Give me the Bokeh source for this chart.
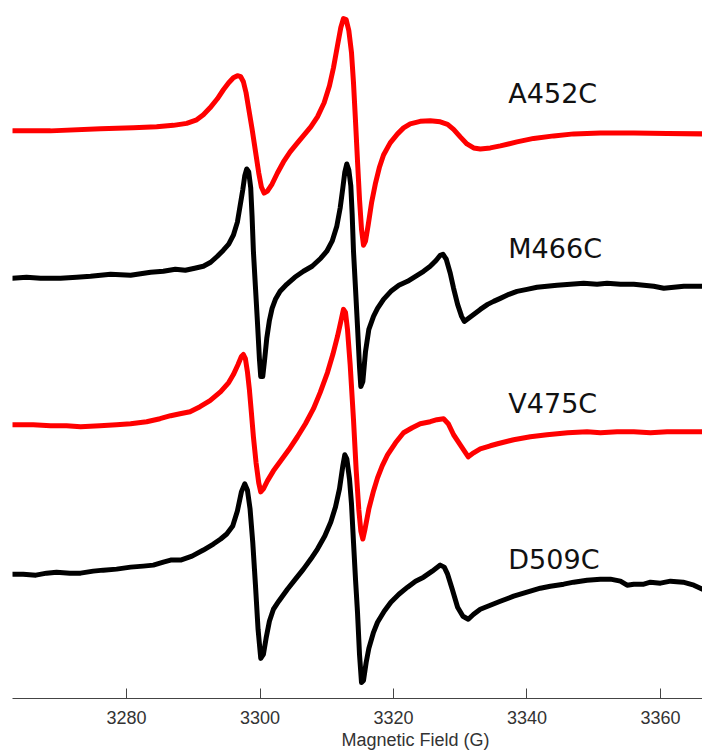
from bokeh.plotting import figure
from bokeh.models import Range1d, FixedTicker, Title
from bokeh.core.properties import value
from bokeh.embed import file_html
from bokeh.resources import INLINE

# ---- data (magnetic field in G, derivative intensity in arbitrary units relative to baseline) ----
field_A = [3262.9, 3268.6, 3276.1, 3281.0, 3284.5, 3287.0, 3289.0, 3290.5, 3291.5, 3292.5,
           3293.6, 3294.5, 3295.3, 3296.0, 3296.6, 3297.1, 3297.5, 3297.9, 3298.3, 3298.8,
           3299.3, 3299.8, 3300.2, 3300.6, 3301.1, 3301.8, 3302.6, 3303.5, 3304.5, 3305.6,
           3306.6, 3307.6, 3308.6, 3309.6, 3310.4, 3311.0, 3311.6, 3312.1, 3312.5, 3312.9,
           3313.3, 3313.7, 3314.0, 3314.3, 3314.6, 3314.9, 3315.2, 3315.5, 3315.8, 3316.2,
           3316.7, 3317.3, 3317.9, 3318.5, 3319.5, 3320.6, 3321.5, 3322.5, 3324.0, 3325.5,
           3327.0, 3328.1, 3329.0, 3330.0, 3331.0, 3332.0, 3333.0, 3334.5, 3336.0, 3338.5,
           3341.0, 3344.0, 3347.0, 3351.0, 3356.0, 3361.0, 3366.3]
int_A = [0, 0, 2, 3, 4, 5.5, 7.5, 11, 16, 23,
         32, 41, 48, 53, 55, 54, 49, 38, 22, 2,
         -20, -42, -56, -62, -60, -53, -42, -31, -21, -12,
         -4, 4, 14, 28, 45, 63, 85, 103, 112, 111,
         100, 78, 48, 10, -30, -68, -98, -114, -110, -94,
         -72, -52, -36, -24, -12, -3, 3, 7, 9.5, 10,
         9, 6.5, 1.5, -6, -13, -17, -18, -17, -15, -11,
         -7.5, -5, -3, -2, -2, -2.5, -3]

field_M = [3262.9, 3265.0, 3267.1, 3270.1, 3272.5, 3274.6, 3277.6, 3280.6, 3283.6, 3285.5,
           3287.3, 3288.8, 3290.2, 3291.5, 3292.6, 3293.6, 3294.5, 3295.3, 3296.0, 3296.6,
           3297.0, 3297.4, 3297.7, 3298.0, 3298.3, 3298.6, 3298.8, 3299.0, 3299.3, 3299.6,
           3299.9, 3300.1, 3300.4, 3300.7, 3301.0, 3301.4, 3301.8, 3302.3, 3303.0, 3304.0,
           3305.2, 3306.5, 3307.8, 3309.1, 3310.0, 3310.8, 3311.5, 3312.0, 3312.4, 3312.7,
           3313.0, 3313.3, 3313.6, 3313.8, 3314.0, 3314.3, 3314.6, 3314.9, 3315.1, 3315.4,
           3315.8, 3316.3, 3317.0, 3317.6, 3318.5, 3319.6, 3320.8, 3322.1, 3323.3, 3324.5,
           3325.5, 3326.4, 3327.0, 3327.4, 3327.9, 3328.5, 3329.0, 3329.6, 3330.2, 3330.6,
           3331.2, 3332.0, 3333.0, 3334.1, 3335.0, 3336.0, 3337.3, 3338.5, 3340.0, 3341.5,
           3343.0, 3344.5, 3346.5, 3348.5, 3350.5, 3352.0, 3354.0, 3356.0, 3357.5, 3359.0,
           3360.5, 3362.0, 3363.5, 3366.3]
int_M = [-2, -1, -2, -2, -1, 0, 2, 1, 4, 5,
         7, 6, 8, 10, 14, 20, 26, 32, 41, 54,
         70, 86, 100, 107, 104, 88, 60, 25, -10, -45,
         -82, -100, -100, -82, -62, -44, -32, -23, -15, -8,
         -1, 5, 10, 18, 25, 35, 50, 68, 88, 104,
         112, 106, 90, 62, 25, -12, -50, -90, -110, -105,
         -75, -53, -40, -32, -23, -15, -9, -5, 0, 5,
         10, 16, 21, 22, 17, 3, -12, -28, -40, -45,
         -42, -38, -33, -28, -25, -22, -18, -15, -13, -11,
         -10, -9, -8, -7, -8, -7, -8, -8, -9, -10,
         -12, -11, -10, -10]

field_V = [3262.9, 3266.0, 3268.6, 3271.0, 3273.1, 3276.0, 3278.5, 3280.6, 3283.0, 3285.0,
           3286.6, 3288.0, 3289.5, 3291.0, 3292.5, 3294.1, 3295.3, 3296.0, 3296.7, 3297.2,
           3297.5, 3297.8, 3298.1, 3298.4, 3298.7, 3299.0, 3299.4, 3299.8, 3300.1, 3300.5,
           3301.1, 3302.0, 3303.1, 3304.3, 3305.6, 3306.8, 3308.0, 3309.0, 3310.1, 3310.9,
           3311.6, 3312.1, 3312.5, 3312.8, 3313.1, 3313.5, 3314.0, 3314.4, 3314.8, 3315.1,
           3315.4, 3315.7, 3316.3, 3317.0, 3317.6, 3318.3, 3319.1, 3320.3, 3321.5, 3322.8,
           3324.0, 3325.5, 3326.5, 3327.5, 3328.2, 3329.0, 3330.0, 3331.2, 3332.0, 3333.0,
           3334.5, 3335.6, 3338.0, 3340.5, 3343.0, 3346.1, 3349.0, 3351.0, 3353.5, 3356.0,
           3358.5, 3361.0, 3363.5, 3366.3]
int_V = [0, 0, -1, -1, -2, -1, 0, 1, 3, 6,
         9, 11, 13, 18, 24, 33, 42, 50, 60, 68,
         70, 66, 53, 35, 12, -12, -38, -58, -67, -64,
         -56, -46, -36, -25, -12, 1, 16, 32, 52, 70,
         88, 103, 115, 112, 95, 60, 5, -45, -85, -106,
         -114, -105, -84, -66, -53, -41, -30, -18, -8, -3,
         1, 3, 5, 6, 1, -10, -20, -32, -28, -24,
         -21, -19, -15, -12, -10, -8, -7, -8, -7, -7,
         -8, -7, -7, -7]

field_D = [3262.9, 3264.5, 3266.4, 3268.0, 3269.5, 3271.5, 3273.1, 3275.0, 3276.5, 3278.5,
           3280.6, 3282.5, 3284.0, 3285.5, 3286.6, 3288.1, 3289.8, 3291.5, 3293.0, 3294.1,
           3295.0, 3295.9, 3296.6, 3297.2, 3297.7, 3298.1, 3298.5, 3298.9, 3299.3, 3299.7,
           3300.1, 3300.5, 3300.9, 3301.4, 3302.0, 3302.8, 3304.1, 3305.3, 3306.5, 3307.6,
           3308.6, 3309.7, 3310.6, 3311.3, 3311.9, 3312.4, 3312.7, 3313.0, 3313.4, 3313.7,
           3314.0, 3314.3, 3314.6, 3314.9, 3315.2, 3315.5, 3315.9, 3316.3, 3317.0, 3317.6,
           3318.6, 3319.6, 3320.8, 3322.1, 3323.3, 3324.5, 3325.8, 3327.0, 3327.6, 3328.1,
           3328.8, 3329.6, 3330.4, 3331.2, 3332.0, 3333.0, 3334.5, 3336.0, 3338.0, 3340.5,
           3342.0, 3343.5, 3345.5, 3347.0, 3349.0, 3351.0, 3352.5, 3354.0, 3355.0, 3356.0,
           3357.5, 3358.5, 3360.0, 3361.5, 3363.4, 3365.0, 3366.3]
int_D = [0, 0, -1, 1, 2, 1, 1, 3, 4, 5,
         7, 8, 9, 12, 14, 14, 18, 24, 30, 35,
         40, 48, 63, 82, 90, 84, 65, 32, -10, -55,
         -84, -80, -64, -47, -35, -27, -15, -5, 5, 15,
         25, 38, 52, 67, 85, 108, 119, 115, 95, 70,
         32, -5, -38, -80, -108, -106, -88, -74, -58, -48,
         -37, -28, -20, -13, -7, -3, 3, 9, 7, 0,
         -15, -33, -42, -45, -40, -35, -31, -27, -22, -17,
         -14, -12, -10, -8, -6, -5, -5, -7, -11, -10,
         -10, -8, -9, -7, -8, -11, -15]

names = ["A452C", "M466C", "V475C", "D509C"]
fields = [field_A, field_M, field_V, field_D]
intensities = [int_A, int_M, int_V, int_D]
ticks = [3280, 3300, 3320, 3340, 3360]

# ---- styling / layout ----
colors = ["#ff0000", "#000000", "#ff0000", "#000000"]
offsets = [568, 423, 275, 126]
label_x = [3337.2, 3337.2, 3337.2, 3337.2]
label_y = [605, 451, 296, 141]

p = figure(width=702, height=750,
           x_range=Range1d(3262.9, 3366.3), y_range=Range1d(2, 698),
           output_backend="svg", toolbar_location=None,
           min_border_left=12, min_border_right=0, min_border_top=0, min_border_bottom=0)

for f, it, off, c in zip(fields, intensities, offsets, colors):
    p.line(f, [off + v for v in it], line_color=c, line_width=5,
           line_join="round", line_cap="round")

p.text(x=label_x, y=label_y, text=names, text_font=value("DejaVu Sans"),
       text_font_size="27px", text_baseline="middle", text_align="left",
       text_color="#111111")

p.yaxis.visible = False
p.grid.visible = False
p.outline_line_color = None
p.background_fill_color = "white"
p.border_fill_color = "white"

ax = p.xaxis[0]
ax.ticker = FixedTicker(ticks=ticks)
ax.minor_tick_line_color = None
ax.major_tick_in = 10
ax.major_tick_out = 0
ax.major_tick_line_color = "#444444"
ax.axis_line_color = "#444444"
ax.axis_line_width = 1.2
ax.major_label_text_font = "Liberation Sans"
ax.major_label_text_font_size = "18px"
ax.major_label_text_color = "#333333"
ax.major_label_standoff = 12

t = Title(text="Magnetic Field (G)", align="left", offset=329,
          text_font="Liberation Sans", text_font_size="18px",
          text_font_style="normal", text_color="#333333", standoff=2)
p.add_layout(t, "below")

open("out.html", "w").write(file_html(p, INLINE))
